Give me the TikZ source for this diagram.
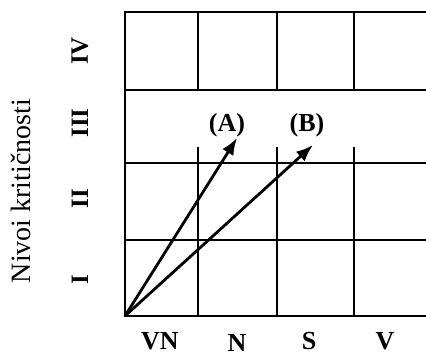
\documentclass[tikz,border=0pt]{standalone}
\usepackage{fontspec}
\setmainfont{Liberation Serif}
\usetikzlibrary{arrows.meta,positioning}

\begin{document}
\begin{tikzpicture}[x=1pt,y=1pt,
    gridline/.style={line width=2.8pt,line cap=rect},
    level/.style={font=\fontsize{25}{25}\selectfont\bfseries,rotate=90},
    impact/.style={font=\fontsize{26}{26}\selectfont\bfseries,inner sep=1pt},
    riskarrow/.style={line width=2.8pt,-{Latex[length=17pt,width=13pt]}}]
    \useasboundingbox (0,0) rectangle (426,358);
    % Grid lines
    \foreach \y in {42,118,195,268,346} {
        \draw[gridline] (125,\y) -- (426,\y);
    }
    \draw[gridline] (125,42) -- (125,346);
    \foreach \x in {198,277,354} {
        \draw[gridline] (\x,42) -- (\x,210);
        \draw[gridline] (\x,268) -- (\x,346);
    }

    % Arrows A and B
    \coordinate (O) at (125,42);
    \coordinate (tipA) at (237,220);
    \coordinate (tipB) at (313,213);
    \draw[riskarrow] (O) -- (tipA);
    \draw[riskarrow] (O) -- (tipB);
    \node[impact] (labA) at (227,233) {(A)};
    \node[impact] (labB) at (307,233) {(B)};

    % Levels
    \node[level] (lvI) at (80,78) {I};
    \node[level] (lvII) at (80,159) {II};
    \node[level] (lvIII) at (80,235) {III};
    \node[level] (lvIV) at (80,307) {IV};
    \node[rotate=90,font=\fontsize{28}{28}\selectfont] (axis) at (21,167) {Nivoi kritičnosti};

    % Columns
    \node[impact] (colVN) at (160,17) {VN};
    \node[impact] (colN) at (237,15) {N};
    \node[impact] (colS) at (309,17) {S};
    \node[impact] (colV) at (385,17) {V};
\end{tikzpicture}
\end{document}
